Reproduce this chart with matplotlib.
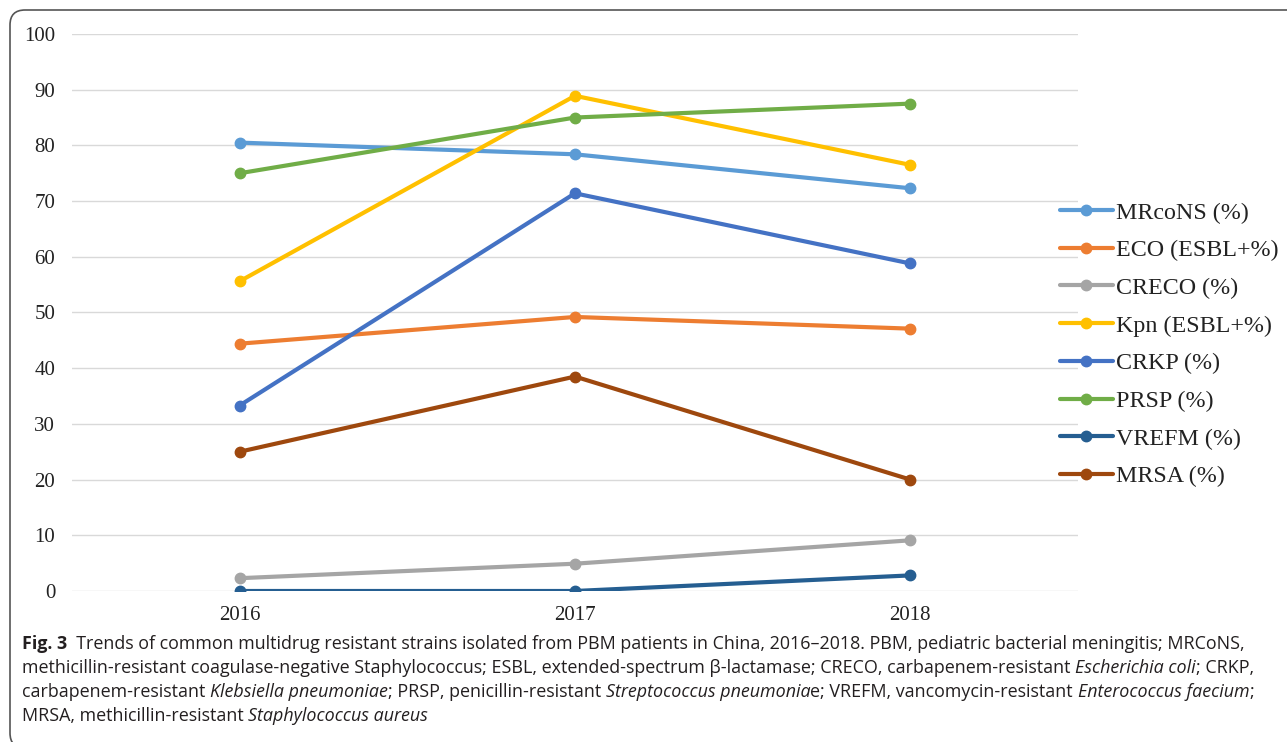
import matplotlib
matplotlib.use("Agg")
import matplotlib.pyplot as plt
from matplotlib.patches import FancyBboxPatch

years = ["2016", "2017", "2018"]
labels = ["MRcoNS (%)", "ECO (ESBL+%)", "CRECO (%)", "Kpn (ESBL+%)",
          "CRKP (%)", "PRSP (%)", "VREFM (%)", "MRSA (%)"]
mrcons = [80.5, 78.4, 72.3]
eco = [44.4, 49.2, 47.1]
creco = [2.3, 4.9, 9.1]
kpn = [55.6, 88.9, 76.5]
crkp = [33.3, 71.4, 58.8]
prsp = [75.0, 85.0, 87.5]
vrefm = [0.0, 0.0, 2.8]
mrsa = [25.0, 38.5, 20.0]
series = [mrcons, eco, creco, kpn, crkp, prsp, vrefm, mrsa]
colors = ["#5B9BD5", "#ED7D31", "#A5A5A5", "#FFC000",
          "#4472C4", "#70AD47", "#255E91", "#9E480E"]

fig = plt.figure(figsize=(12.87, 7.42), dpi=100)

# rounded frame round the figure (cut off on the right and bottom)
frame = FancyBboxPatch((0.10, -0.06), 13.2, 7.38,
                       boxstyle="round,pad=0,rounding_size=0.15",
                       transform=fig.dpi_scale_trans, fill=False,
                       edgecolor="#555555", linewidth=1.2, zorder=0)
fig.patches.append(frame)

ax = fig.add_axes([0.0559, 0.2035, 0.7817, 0.7507])
x = list(range(len(years)))
for vals, lab, c in zip(series, labels, colors):
    ax.plot(x, vals, color=c, linewidth=3, marker="o", markersize=7.5,
            label=lab, solid_capstyle="round")

ax.set_xlim(-0.5, 2.5)
ax.set_ylim(0, 100)
ax.set_yticks(range(0, 101, 10))
ax.set_xticks(x)
ax.set_xticklabels(years)
ax.grid(axis="y", color="#D9D9D9", linewidth=1)
ax.set_axisbelow(True)
for s in ax.spines.values():
    s.set_visible(False)
ax.tick_params(length=0, labelsize=15, colors="#222222")
ax.tick_params(axis="y", pad=12)
ax.tick_params(axis="x", pad=11)
for t in ax.get_xticklabels() + ax.get_yticklabels():
    t.set_family("Liberation Serif")

leg = fig.legend(loc="center left", bbox_to_anchor=(0.8235, 0.5357),
                 frameon=False, prop={"family": "Liberation Serif", "size": 17.3},
                 handlelength=2.2, handletextpad=0.12, labelspacing=0.66,
                 borderpad=0, borderaxespad=0)
for t in leg.get_texts():
    t.set_color("#222222")

# caption, drawn piece by piece so italics can be mixed in
cap = [
    [("Fig. 3", "bold"), ("  Trends of common multidrug resistant strains isolated from PBM patients in China, 2016\u20132018. PBM, pediatric bacterial meningitis; MRCoNS,", "normal")],
    [("methicillin-resistant coagulase-negative Staphylococcus; ESBL, extended-spectrum \u03b2-lactamase; CRECO, carbapenem-resistant ", "normal"),
     ("Escherichia coli", "italic"), ("; CRKP,", "normal")],
    [("carbapenem-resistant ", "normal"), ("Klebsiella pneumoniae", "italic"),
     ("; PRSP, penicillin-resistant ", "normal"), ("Streptococcus pneumonia", "italic"),
     ("e; VREFM, vancomycin-resistant ", "normal"), ("Enterococcus faecium", "italic"), (";", "normal")],
    [("MRSA, methicillin-resistant ", "normal"), ("Staphylococcus aureus", "italic")],
]
fig.canvas.draw()
r = fig.canvas.get_renderer()
y0 = 742 - 649
for i, line in enumerate(cap):
    xp = 22
    yp = y0 - i * 24
    for txt, sty in line:
        kw = {"family": "Open Sans", "size": 12.9, "color": "#231F20"}
        if sty == "bold":
            kw["weight"] = "bold"
        if sty == "italic":
            kw["style"] = "italic"
        t = fig.text(xp / 1287, yp / 742, txt, va="baseline", ha="left", **kw)
        bb = t.get_window_extent(renderer=r)
        xp = bb.x1

fig.savefig("out.png", dpi=100)
